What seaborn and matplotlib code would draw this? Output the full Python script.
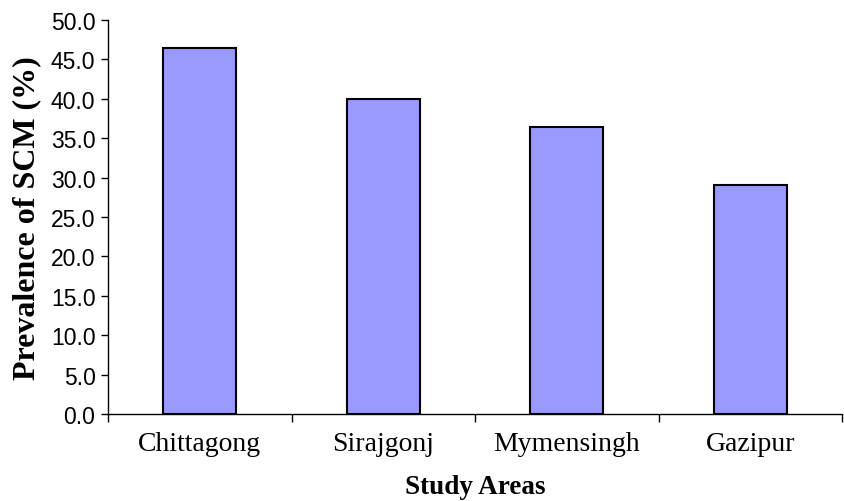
import matplotlib
matplotlib.use("Agg")
import matplotlib.pyplot as plt
import seaborn as sns
import pandas as pd
import numpy as np

areas = ["Chittagong", "Sirajgonj", "Mymensingh", "Gazipur"]
prevalence = [46.5, 40.0, 36.4, 29.0]
yticks = [0, 5, 10, 15, 20, 25, 30, 35, 40, 45, 50]

sns.set_style("white")
plt.rcParams["text.color"] = "black"
plt.rcParams["axes.labelcolor"] = "black"
plt.rcParams["xtick.color"] = "black"
plt.rcParams["ytick.color"] = "black"
df = pd.DataFrame({"area": areas, "prev": prevalence})

fig = plt.figure(figsize=(8.44, 5.02), dpi=100)
ax = fig.add_axes([108/844, 1 - 415/502, (842 - 108)/844, (415 - 21)/502])
sns.barplot(data=df, x="area", y="prev", color="#9999FF", width=0.4,
            edgecolor="black", linewidth=1.5, saturation=1, ax=ax)

ax.set_ylim(0, 50)
ax.set_xlim(-0.5, 3.5)
ax.set_yticks(yticks)
ax.set_yticklabels([f"{v:.1f}" for v in yticks], family="Liberation Sans", fontsize=16.5, color="black")
ax.tick_params(axis="y", direction="out", length=5, width=1, color="black", left=True, pad=4)
ax.set_xticks(range(len(areas)))
ax.set_xticklabels(areas, family="Liberation Serif", fontsize=20, color="black")
ax.tick_params(axis="x", which="major", length=0, pad=12)
ax.set_xticks(np.arange(-0.5, len(areas), 1.0), minor=True)
ax.tick_params(axis="x", which="minor", direction="out", length=6, width=1, color="black", bottom=True)

for s in ["top", "right"]:
    ax.spines[s].set_visible(False)
for s in ["left", "bottom"]:
    ax.spines[s].set_color("black")
    ax.spines[s].set_linewidth(1)

ax.set_xlabel("Study Areas", family="Liberation Serif", fontsize=19.5, fontweight="bold", labelpad=13.5, color="black")
ax.set_ylabel("Prevalence of SCM (%)", family="Liberation Serif", fontsize=23, fontweight="bold", labelpad=7, color="black")

fig.savefig("out.png", dpi=100)
